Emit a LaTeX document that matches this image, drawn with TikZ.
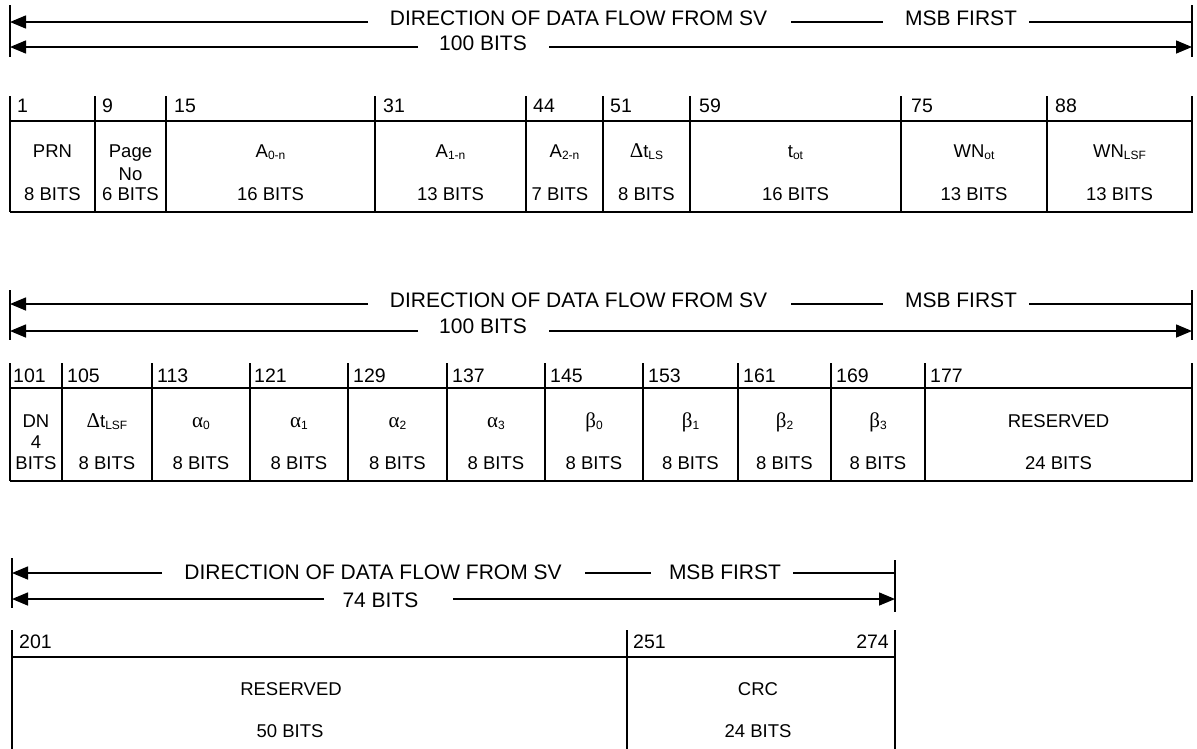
\documentclass[tikz,border=0pt]{standalone}
\usepackage{fontspec}
\setmainfont{Liberation Sans}
\newfontfamily\grk{Liberation Serif}
\usetikzlibrary{arrows.meta}
\newcommand\lowsub[1]{\raisebox{-2.5pt}{\fontsize{12}{12}\selectfont #1}}
\newcommand\gl[1]{{\grk\fontsize{21}{22}\selectfont #1}}
\begin{document}
\begin{tikzpicture}[x=1pt,y=-1pt,
  lbl/.style={anchor=base, inner sep=0pt, font=\fontsize{18.5}{22}\selectfont},
  num/.style={anchor=base west, inner sep=0pt, font=\fontsize{19.5}{22}\selectfont},
  hdr/.style={anchor=base, inner sep=0pt, font=\fontsize{21}{24}\selectfont},
  boxline/.style={line width=1.8pt},
  edgeline/.style={line width=2.6pt},
  barline/.style={line width=1.8pt},
  flow/.style={line width=1.5pt},
  arr/.style={line width=1.5pt, -{Triangle[length=16pt,width=13pt]}}]
\useasboundingbox (0,0) rectangle (1197,748);

% ================= TABLE 1 header =================
\coordinate (t1L) at (10,5);  \coordinate (t1Lb) at (10,57);
\coordinate (t1R) at (1192,5); \coordinate (t1Rb) at (1192,57);
\draw[barline] (t1L) -- (t1Lb);
\draw[barline] (t1R) -- (t1Rb);
\node[hdr] (d1) at (578.5,25) {DIRECTION OF DATA FLOW FROM SV};
\node[hdr] (m1) at (961,25) {MSB FIRST};
\node[hdr] (b1) at (483,50) {100 BITS};
\coordinate (a1l) at (10,22); \coordinate (a1r) at (1192,22);
\coordinate (c1l) at (10,47); \coordinate (c1r) at (1192,47);
\draw[arr] (368,22) -- (a1l);
\draw[flow] (791,22) -- (883,22);
\draw[flow] (1029,22) -- (a1r);
\draw[arr] (418,47) -- (c1l);
\draw[arr] (549,47) -- (c1r);

% ================= TABLE 1 body =================
\foreach \x in {10,95,166,375,526,603,690,901,1047}
  \draw[boxline] (\x,96) -- (\x,212);
\draw[boxline] (1192,96) -- (1192,121);
\draw[edgeline] (1192,121) -- (1192,213);
\draw[boxline] (10,121) -- (1192,121);
\draw[boxline] (10,212) -- (1192,212);

\node[num] (n1)  at (17,112) {1};
\node[num] (n9)  at (102,112) {9};
\node[num] (n15) at (174,112) {15};
\node[num] (n31) at (383,112) {31};
\node[num] (n44) at (533,112) {44};
\node[num] (n51) at (610,112) {51};
\node[num] (n59) at (699,112) {59};
\node[num] (n75) at (911,112) {75};
\node[num] (n88) at (1055,112) {88};

\node[lbl] (prn) at (52.5,157) {PRN};
\node[lbl] (prnb) at (52.5,200) {8 BITS};
\node[lbl] (pg) at (130.5,157) {Page};
\node[lbl] (pgno) at (130.5,180) {No};
\node[lbl] (pgb) at (130.5,200) {6 BITS};
\node[lbl] (a0) at (270.5,157) {A\lowsub{0-n}};
\node[lbl] (a0b) at (270.5,200) {16 BITS};
\node[lbl] (a1) at (450.5,157) {A\lowsub{1-n}};
\node[lbl] (a1b) at (450.5,200) {13 BITS};
\node[lbl] (a2) at (564.5,157) {A\lowsub{2-n}};
\node[lbl] (a2b) at (560,200) {7 BITS};
\node[lbl] (dtls) at (646.5,157) {\gl{Δ}t\lowsub{LS}};
\node[lbl] (dtlsb) at (646.5,200) {8 BITS};
\node[lbl] (tot) at (795.5,157) {t\lowsub{ot}};
\node[lbl] (totb) at (795.5,200) {16 BITS};
\node[lbl] (wnot) at (974,157) {WN\lowsub{ot}};
\node[lbl] (wnotb) at (974,200) {13 BITS};
\node[lbl] (wnlsf) at (1119.5,157) {WN\lowsub{LSF}};
\node[lbl] (wnlsfb) at (1119.5,200) {13 BITS};

% ================= TABLE 2 header =================
\coordinate (t2L) at (10,290);  \coordinate (t2Lb) at (10,340);
\coordinate (t2R) at (1192,290); \coordinate (t2Rb) at (1192,340);
\draw[barline] (t2L) -- (t2Lb);
\draw[barline] (t2R) -- (t2Rb);
\node[hdr] (d2) at (578.5,307) {DIRECTION OF DATA FLOW FROM SV};
\node[hdr] (m2) at (961,307) {MSB FIRST};
\node[hdr] (b2) at (483,333) {100 BITS};
\coordinate (a2l) at (10,304); \coordinate (a2r) at (1192,304);
\coordinate (c2l) at (10,331); \coordinate (c2r) at (1192,331);
\draw[arr] (368,304) -- (a2l);
\draw[flow] (791,304) -- (883,304);
\draw[flow] (1029,304) -- (a2r);
\draw[arr] (418,331) -- (c2l);
\draw[arr] (549,331) -- (c2r);

% ================= TABLE 2 body =================
\foreach \x in {10,62,152,250,348,447,545,643,738,831,925}
  \draw[boxline] (\x,363) -- (\x,481);
\draw[boxline] (1192,363) -- (1192,388);
\draw[edgeline] (1192,388) -- (1192,482);
\draw[boxline] (10,388) -- (1192,388);
\draw[boxline] (10,481) -- (1192,481);

\node[num] (n101) at (13,382) {101};
\node[num] (n105) at (67,382) {105};
\node[num] (n113) at (157,382) {113};
\node[num] (n121) at (254,382) {121};
\node[num] (n129) at (353,382) {129};
\node[num] (n137) at (452,382) {137};
\node[num] (n145) at (550,382) {145};
\node[num] (n153) at (648,382) {153};
\node[num] (n161) at (743,382) {161};
\node[num] (n169) at (836,382) {169};
\node[num] (n177) at (930,382) {177};

\node[lbl] (dn) at (36,427) {DN};
\node[lbl] (dn4) at (36,448) {4};
\node[lbl] (dnb) at (36,469) {BITS};
\node[lbl] (dtlsf) at (107,427) {\gl{Δ}t\lowsub{LSF}};
\node[lbl] (dtlsfb) at (107,469) {8 BITS};
\node[lbl] (al0) at (201,427) {\gl{α}\lowsub{0}};
\node[lbl] (al0b) at (201,469) {8 BITS};
\node[lbl] (al1) at (299,427) {\gl{α}\lowsub{1}};
\node[lbl] (al1b) at (299,469) {8 BITS};
\node[lbl] (al2) at (397.5,427) {\gl{α}\lowsub{2}};
\node[lbl] (al2b) at (397.5,469) {8 BITS};
\node[lbl] (al3) at (496,427) {\gl{α}\lowsub{3}};
\node[lbl] (al3b) at (496,469) {8 BITS};
\node[lbl] (be0) at (594,427) {\gl{β}\lowsub{0}};
\node[lbl] (be0b) at (594,469) {8 BITS};
\node[lbl] (be1) at (690.5,427) {\gl{β}\lowsub{1}};
\node[lbl] (be1b) at (690.5,469) {8 BITS};
\node[lbl] (be2) at (784.5,427) {\gl{β}\lowsub{2}};
\node[lbl] (be2b) at (784.5,469) {8 BITS};
\node[lbl] (be3) at (878,427) {\gl{β}\lowsub{3}};
\node[lbl] (be3b) at (878,469) {8 BITS};
\node[lbl] (res2) at (1058.5,427) {RESERVED};
\node[lbl] (res2b) at (1058.5,469) {24 BITS};

% ================= TABLE 3 header =================
\coordinate (t3L) at (12,558);  \coordinate (t3Lb) at (12,608);
\coordinate (t3R) at (895,560); \coordinate (t3Rb) at (895,612);
\draw[barline] (t3L) -- (t3Lb);
\draw[barline] (t3R) -- (t3Rb);
\node[hdr] (d3) at (373,579) {DIRECTION OF DATA FLOW FROM SV};
\node[hdr] (m3) at (725,579) {MSB FIRST};
\node[hdr] (b3) at (380.5,607) {74 BITS};
\coordinate (a3l) at (12,573); \coordinate (a3r) at (895,573);
\coordinate (c3l) at (12,599); \coordinate (c3r) at (895,599);
\draw[arr] (162,573) -- (a3l);
\draw[flow] (585,573) -- (651,573);
\draw[flow] (793,573) -- (a3r);
\draw[arr] (324,599) -- (c3l);
\draw[arr] (453,599) -- (c3r);

% ================= TABLE 3 body =================
\draw[boxline] (12,630) -- (12,750);
\draw[boxline] (627,630) -- (627,750);
\draw[boxline] (895,630) -- (895,657);
\draw[edgeline] (895,657) -- (895,750);
\draw[boxline] (12,657) -- (895,657);

\node[num] (n201) at (19,648) {201};
\node[num] (n251) at (633,648) {251};
\node[num, anchor=base east] (n274) at (889,648) {274};

\node[lbl] (res3) at (291,695) {RESERVED};
\node[lbl] (res3b) at (290,737) {50 BITS};
\node[lbl] (crc) at (758,695) {CRC};
\node[lbl] (crcb) at (758,737) {24 BITS};
\end{tikzpicture}
\end{document}
